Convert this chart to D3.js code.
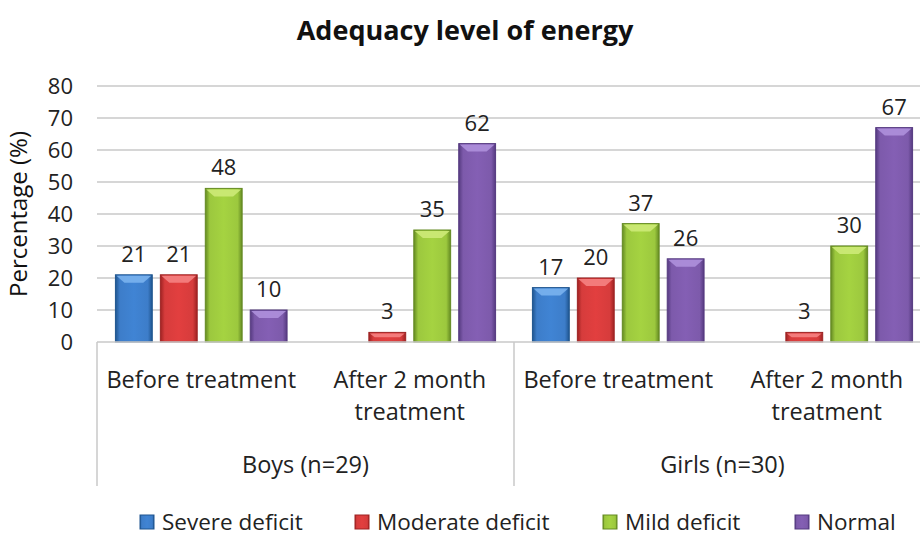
<!DOCTYPE html>
<html>
<head>
<meta charset="utf-8">
<script src="https://cdn.jsdelivr.net/npm/d3@7"></script>
<style>
  body { margin: 0; background: #fff; }
  svg { font-family: "Open Sans", Lato, sans-serif; }
</style>
</head>
<body>
<script>
var w = 920;
var h = 538;

var categories = ["Before treatment", "After 2 month treatment", "Before treatment", "After 2 month treatment"];
var groups = ["Boys (n=29)", "Girls (n=30)"];
var seriesNames = ["Severe deficit", "Moderate deficit", "Mild deficit", "Normal"];
var severe = [21, null, 17, null];
var moderate = [21, 3, 20, 3];
var mild = [48, 35, 37, 30];
var normal = [10, 62, 26, 67];
var yTicks = [0, 10, 20, 30, 40, 50, 60, 70, 80];

var allSeries = [severe, moderate, mild, normal];
// mid colour, edge colour, top bevel colour
var colors = [
    ["#3d7dc9", "#1f558f", "#7ab3ee"],
    ["#d63c3c", "#9e2222", "#f58282"],
    ["#9cc83e", "#648a22", "#cdea78"],
    ["#7d5aab", "#553a80", "#ae90dc"]
];

var plotLeft = 97, plotBottom = 342, plotTop = 86;
var catW = 208.5;

var svg = d3.select("body")
    .append("svg")
    .attr("width", w)
    .attr("height", h);

var defs = svg.append("defs");
colors.forEach(function(c, i){
    var g = defs.append("linearGradient").attr("id", "grad" + i)
        .attr("x1", "0").attr("x2", "1").attr("y1", "0").attr("y2", "0");
    g.append("stop").attr("offset", "0").attr("stop-color", c[1]);
    g.append("stop").attr("offset", "0.12").attr("stop-color", c[0]);
    g.append("stop").attr("offset", "0.5").attr("stop-color", d3.color(c[0]).brighter(0.15));
    g.append("stop").attr("offset", "0.88").attr("stop-color", c[0]);
    g.append("stop").attr("offset", "1").attr("stop-color", c[1]);
});

var x0 = d3.scaleBand()
    .domain(d3.range(categories.length))
    .range([plotLeft, plotLeft + catW * categories.length]);

var x1 = d3.scaleBand()
    .domain(d3.range(seriesNames.length))
    .range([0, x0.bandwidth()])
    .paddingInner(0.18)
    .paddingOuter(0.41);

var y = d3.scaleLinear()
    .domain([0, 80])
    .range([plotBottom, plotTop]);

// title
svg.append("text")
    .attr("x", 465)
    .attr("y", 40)
    .attr("text-anchor", "middle")
    .style("font-size", "27px")
    .style("font-weight", "bold")
    .style("fill", "#111")
    .text("Adequacy level of energy");

// gridlines
svg.selectAll(".grid")
    .data(yTicks.slice(1))
    .enter()
    .append("line")
    .attr("x1", plotLeft)
    .attr("x2", w)
    .attr("y1", function(d){ return y(d); })
    .attr("y2", function(d){ return y(d); })
    .style("stroke", "#d6d6d6")
    .style("stroke-width", 2);

// y tick labels
svg.selectAll(".ytick")
    .data(yTicks)
    .enter()
    .append("text")
    .attr("x", 73)
    .attr("y", function(d){ return y(d); })
    .attr("dy", "0.36em")
    .attr("text-anchor", "end")
    .style("font-size", "22px")
    .style("fill", "#222")
    .text(function(d){ return d; });

svg.append("text")
    .attr("transform", "translate(27," + ((plotTop + plotBottom) / 2) + ") rotate(-90)")
    .attr("text-anchor", "middle")
    .style("font-size", "24px")
    .style("fill", "#111")
    .text("Percentage (%)");

// bars
allSeries.forEach(function(vals, s){
    var gs = svg.append("g");
    vals.forEach(function(v, c){
        if (v === null) return;
        var bx = x0(c) + x1(s);
        var bw = x1.bandwidth();
        var by = y(v);
        var bh = plotBottom - by;
        gs.append("rect")
            .attr("x", bx)
            .attr("y", by)
            .attr("width", bw)
            .attr("height", bh)
            .attr("fill", "url(#grad" + s + ")")
            .style("stroke", colors[s][1])
            .style("stroke-width", 1);
        var bev = Math.min(8, bh / 2);
        gs.append("polygon")
            .attr("points", [
                [bx + 1, by + 1], [bx + bw - 1, by + 1],
                [bx + bw - 1 - bev, by + bev], [bx + 1 + bev, by + bev]
            ].map(function(p){ return p.join(","); }).join(" "))
            .attr("fill", colors[s][2])
            .attr("opacity", 0.9);
        gs.append("text")
            .attr("x", bx + bw / 2)
            .attr("y", by - 13)
            .attr("text-anchor", "middle")
            .style("font-size", "22px")
            .style("fill", "#222")
            .text(v);
    });
});

// category axis
svg.append("line")
    .attr("x1", plotLeft).attr("x2", w)
    .attr("y1", plotBottom).attr("y2", plotBottom)
    .style("stroke", "#c8c8c8").style("stroke-width", 1.5);

[0, 2, 4].forEach(function(i){
    var xx = plotLeft + catW * i;
    svg.append("line")
        .attr("x1", xx).attr("x2", xx)
        .attr("y1", plotBottom).attr("y2", 486)
        .style("stroke", "#c8c8c8").style("stroke-width", 1.5);
});

categories.forEach(function(c, i){
    var lines = c.length > 16 ? [c.slice(0, c.lastIndexOf(" ")), c.slice(c.lastIndexOf(" ") + 1)] : [c];
    var t = svg.append("text")
        .attr("text-anchor", "middle")
        .style("font-size", "23.5px")
        .style("fill", "#222");
    lines.forEach(function(l, k){
        t.append("tspan")
            .attr("x", x0(i) + x0.bandwidth() / 2)
            .attr("y", 388 + k * 32)
            .text(l);
    });
});

groups.forEach(function(g, i){
    svg.append("text")
        .attr("x", plotLeft + catW * (2 * i + 1))
        .attr("y", 473)
        .attr("text-anchor", "middle")
        .style("font-size", "23.5px")
        .style("fill", "#222")
        .text(g);
});

// legend
var legX = [140, 355, 603, 795];
seriesNames.forEach(function(n, i){
    svg.append("rect")
        .attr("x", legX[i])
        .attr("y", 515)
        .attr("width", 14)
        .attr("height", 14)
        .attr("fill", "url(#grad" + i + ")")
        .style("stroke", colors[i][1]);
    svg.append("text")
        .attr("x", legX[i] + 22)
        .attr("y", 530)
        .style("font-size", "22.5px")
        .style("fill", "#222")
        .text(n);
});
</script>
</body>
</html>
